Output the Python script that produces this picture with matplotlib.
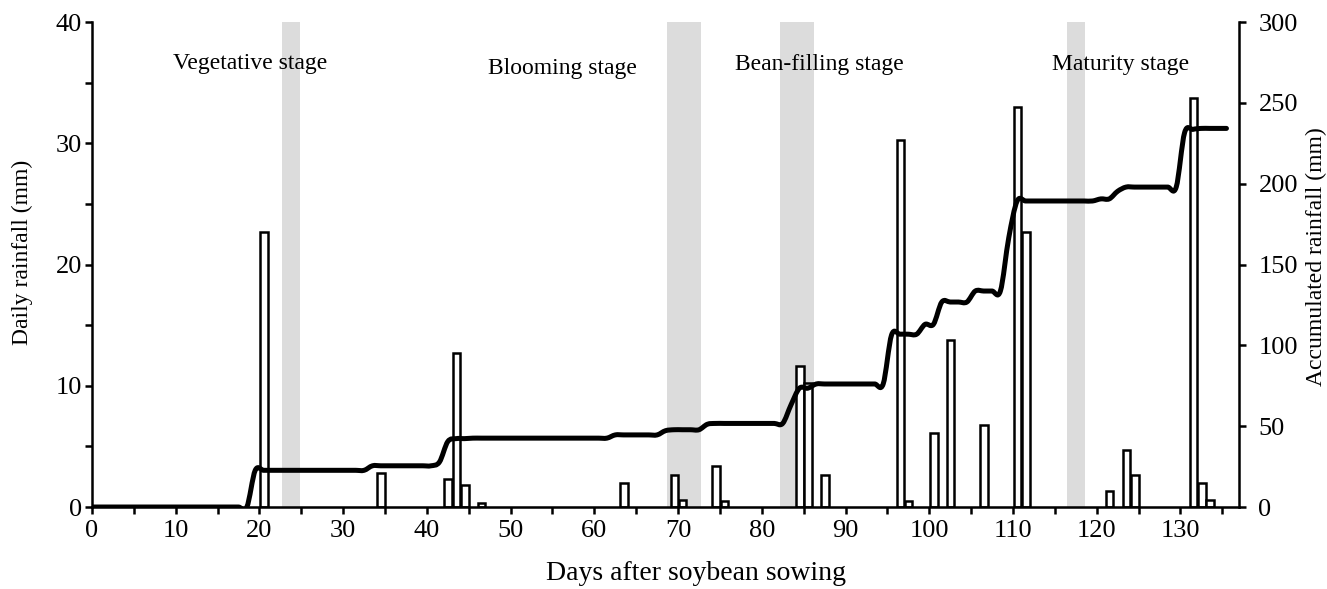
#!/usr/bin/env python3
# -*- coding: utf-8 -*-

'''
plot.py

Daily and accumulated rainfall during the soybean growing season

To run the code:
   python3 plot.py
'''

import numpy as np
import matplotlib
matplotlib.use('Agg')
import matplotlib.pyplot as plt
from matplotlib.path import Path
from matplotlib.patches import PathPatch
from matplotlib.ticker import MultipleLocator

#---------------------------------------------------------------------
# 01. Data
#---------------------------------------------------------------------

rain_days = [20, 34, 42, 43, 44, 46, 63, 69, 70, 74, 75, 84, 85, 87,
             96, 97, 100, 102, 106, 110, 111, 121, 123, 124, 131, 132, 133]
rain_mm = [22.7, 2.8, 2.3, 12.7, 1.8, 0.3, 2.0, 2.6, 0.6, 3.4, 0.5, 11.6, 10.2, 2.6,
           30.3, 0.5, 6.1, 13.8, 6.8, 33.0, 22.7, 1.3, 4.7, 2.6, 33.7, 2.0, 0.6]

last_day = 136

stage_names = ['Vegetative stage', 'Blooming stage', 'Bean-filling stage', 'Maturity stage']
stage_x = [18.9, 56.2, 86.9, 122.8]
stage_y = [36.6, 36.2, 36.5, 36.5]

band_start = [22.7, 68.7, 82.2, 116.5]
band_end = [24.9, 72.7, 86.2, 118.6]


def smooth_path(x, y):
    # spreadsheet style smoothed line: cubic bezier through every point
    x = np.asarray(x, dtype=float)
    y = np.asarray(y, dtype=float)
    px = np.concatenate([[x[0]], x, [x[-1]]])
    py = np.concatenate([[y[0]], y, [y[-1]]])
    verts = [(x[0], y[0])]
    codes = [Path.MOVETO]
    for i in range(1, len(px) - 2):
        c1 = (px[i] + (px[i+1] - px[i-1]) / 6., py[i] + (py[i+1] - py[i-1]) / 6.)
        c2 = (px[i+1] - (px[i+2] - px[i]) / 6., py[i+1] - (py[i+2] - py[i]) / 6.)
        verts += [c1, c2, (px[i+1], py[i+1])]
        codes += [Path.CURVE4] * 3
    return Path(verts, codes)


def main():

    plt.rcParams['font.family'] = ['Liberation Serif', 'DejaVu Serif']

    daily = np.zeros(last_day + 1)
    daily[rain_days] = rain_mm
    accum = np.cumsum(daily)
    days = np.arange(last_day + 1)

    #---------------------------------------------------------------------
    # 02. Plot
    #---------------------------------------------------------------------

    fig = plt.figure(figsize=(13.27, 5.89), dpi=100)
    ax = fig.add_axes([0.0693, 0.1392, 0.8644, 0.8234])

    for s, e in zip(band_start, band_end):
        ax.axvspan(s, e, color='#dcdcdc', linewidth=0, zorder=0)

    ax.bar(np.array(rain_days) + 0.55, rain_mm, width=0.9, facecolor='white',
           edgecolor='black', linewidth=1.8, zorder=2)

    for name, sx, sy in zip(stage_names, stage_x, stage_y):
        ax.text(sx, sy, name, ha='center', va='center', fontsize=17, zorder=5)

    ax2 = ax.twinx()
    line = PathPatch(smooth_path(days - 0.5, accum), fill=False, edgecolor='black',
                     linewidth=3.6, capstyle='round', joinstyle='round')
    ax2.add_patch(line)

    ax.set_xlim(0, 137)
    ax.set_ylim(0, 40)
    ax2.set_ylim(0, 300)

    ax.spines['top'].set_visible(False)
    ax.spines['right'].set_visible(False)
    ax2.spines['top'].set_visible(False)
    ax2.spines['left'].set_visible(False)
    for sp in ['left', 'bottom']:
        ax.spines[sp].set_linewidth(1.8)
    ax2.spines['right'].set_linewidth(1.8)

    ax.xaxis.set_major_locator(MultipleLocator(10))
    ax.xaxis.set_minor_locator(MultipleLocator(5))
    ax.yaxis.set_major_locator(MultipleLocator(10))
    ax.yaxis.set_minor_locator(MultipleLocator(5))
    ax2.yaxis.set_major_locator(MultipleLocator(50))

    ax.tick_params(axis='x', which='both', direction='out', length=5, width=1.8,
                   labelsize=19, pad=4)
    ax.tick_params(axis='y', which='both', direction='out', length=5, width=1.8,
                   labelsize=19, pad=2)
    ax2.tick_params(axis='y', which='major', direction='out', length=5, width=1.8,
                    labelsize=19, pad=9)

    ax.set_xlabel('Days after soybean sowing', fontsize=20)
    ax.set_ylabel('Daily rainfall (mm)', fontsize=17)
    ax2.set_ylabel('Accumulated rainfall (mm)', fontsize=17)
    ax.xaxis.set_label_coords(0.527, -0.112)
    ax.yaxis.set_label_coords(-0.0514, 0.525)
    ax2.yaxis.set_label_coords(1.0584, 0.516)

    plt.savefig('out.png', dpi=100)
    plt.close(fig)


if __name__ == '__main__':
    main()
